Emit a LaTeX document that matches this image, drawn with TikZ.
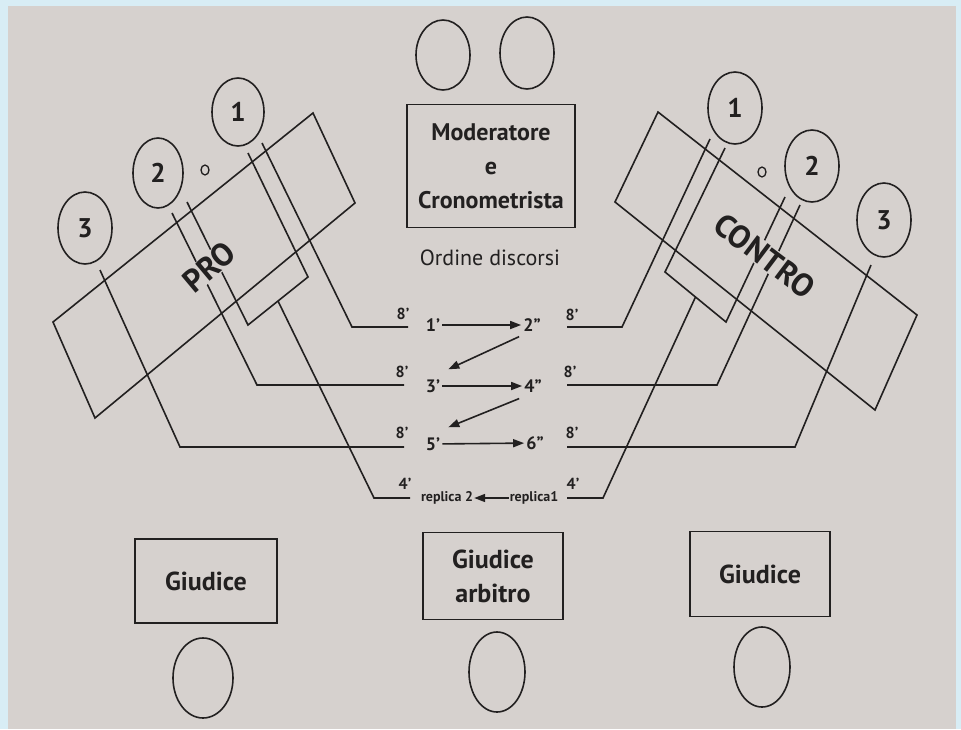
\documentclass[tikz,border=0pt]{standalone}
\usepackage{fontspec}
\setmainfont{PT Sans}
\usetikzlibrary{arrows.meta,calc,shapes.geometric}
\definecolor{frame}{RGB}{216,237,245}
\definecolor{paper}{RGB}{214,209,206}
\definecolor{ink}{RGB}{34,32,32}

\begin{document}
\begin{tikzpicture}[x=1pt,y=-1pt,
  wire/.style={draw=ink,line width=1.6pt,line join=miter},
  seat/.style={ellipse,draw=ink,line width=1.6pt,inner sep=0pt,
    font=\fontsize{27}{27}\selectfont\bfseries,text=ink},
  dot/.style={ellipse,draw=ink,line width=1.3pt,inner sep=0pt,
    minimum width=8pt,minimum height=10pt},
  panel/.style={draw=ink,line width=1.7pt,align=center,text=ink},
  side/.style={fill=paper,inner sep=0.5pt,text=ink,
    font=\fontsize{32}{32}\selectfont\bfseries},
  tmark/.style={inner sep=1pt,text=ink,font=\fontsize{16}{16}\selectfont\bfseries},
  turn/.style={inner sep=2pt,text=ink,font=\fontsize{18}{18}\selectfont\bfseries},
  rep/.style={inner sep=1pt,text=ink,font=\fontsize{14}{14}\selectfont\bfseries},
  arr/.style={draw=ink,line width=1.6pt,-{Triangle[length=11pt,width=8pt]}}]

\useasboundingbox (0,0) rectangle (961,729);
\fill[frame] (0,0) rectangle (961,729);
\fill[paper] (8,6) rectangle (956,729);

% ---------- seats ----------
\node[seat,minimum width=54pt,minimum height=70pt] (t1) at (443,55) {};
\node[seat,minimum width=54pt,minimum height=72pt] (t2) at (527,53) {};

\node[seat,minimum width=52pt,minimum height=68pt] (p1) at (238,112) {1};
\node[seat,minimum width=50pt,minimum height=70pt] (p2) at (158,173) {2};
\node[seat,minimum width=54pt,minimum height=72pt] (p3) at (85,228) {3};
\node[dot] (po) at (205,170) {};

\node[seat,minimum width=54pt,minimum height=72pt] (c1) at (735,108) {1};
\node[seat,minimum width=54pt,minimum height=72pt] (c2) at (812,166) {2};
\node[seat,minimum width=54pt,minimum height=74pt] (c3) at (884,220) {3};
\node[dot] (co) at (762,172) {};

\node[seat,minimum width=60pt,minimum height=80pt] (j1) at (203,678) {};
\node[seat,minimum width=56pt,minimum height=80pt] (j2) at (497,672) {};
\node[seat,minimum width=56pt,minimum height=80pt] (j3) at (762,667) {};

% ---------- boxes ----------
\node[panel,minimum width=168pt,minimum height=123pt,
  font=\fontsize{24}{34}\selectfont\bfseries] (mod) at (491,166)
  {Moderatore\\e\\Cronometrista};
\node[text=ink,font=\fontsize{22}{22}\selectfont] (ord) at (490,258) {Ordine discorsi};

\node[panel,minimum width=142pt,minimum height=84pt,
  font=\fontsize{26}{34}\selectfont\bfseries] (g1) at (206,581) {Giudice};
\node[panel,minimum width=140pt,minimum height=87pt,
  font=\fontsize{26}{34}\selectfont\bfseries] (g2) at (493,576) {Giudice\\arbitro};
\node[panel,minimum width=140pt,minimum height=85pt,
  font=\fontsize{26}{34}\selectfont\bfseries] (g3) at (760,574) {Giudice};

% ---------- team tables ----------
\draw[wire] (313,113) -- (355,203) -- (95,418) -- (53,322) -- cycle;
\draw[wire] (658,112) -- (917,315) -- (875,410) -- (615,202) -- cycle;

% ---------- speech order labels ----------
\node[tmark] (a8) at (403,314) {8'};
\node[tmark] (b8) at (402,372) {8'};
\node[tmark] (c8) at (402,433) {8'};
\node[tmark] (d4) at (405,484) {4'};
\node[tmark] (e8) at (572,315) {8'};
\node[tmark] (f8) at (570,372) {8'};
\node[tmark] (g8) at (572,433) {8'};
\node[tmark] (h4) at (573,484) {4'};

\node[turn] (o1) at (433,325) {1'};
\node[turn] (o2) at (532,325) {2''};
\node[turn] (o3) at (433,386) {3'};
\node[turn] (o4) at (533,386) {4''};
\node[turn] (o5) at (433,444) {5'};
\node[turn] (o6) at (535,443) {6''};
\node[rep] (r2) at (447,498) {replica 2};
\node[rep] (r1) at (534,498) {replica1};

\draw[arr] (o1) -- (o2);
\draw[arr] (o3) -- (o4);
\draw[arr] (o5) -- (o6);
\draw[arr] ($(o2.south west)+(-2,3)$) -- ($(o3.north east)+(6,-8)$);
\draw[arr] ($(o4.south west)+(-3,4)$) -- ($(o5.north east)+(6,-8)$);
\draw[arr] (r1.west) -- (r2.east);

% ---------- speaker lines, PRO side ----------
\coordinate (pa) at (262,143);
\coordinate (pb) at (248,153);
\coordinate (pc) at (187,202);
\coordinate (pd) at (172,213);
\coordinate (pe) at (100,270);
\draw[wire] (pa) -- (352,327) -- (408,327);
\draw[wire] (pb) -- (308,277) -- (248,325) -- (pc);
\draw[wire] (pd) -- (257,385) -- (404,385);
\draw[wire] (pe) -- (180,447) -- (404,447);
\draw[wire] ($(308,277)!0.5!(248,325)$) -- (374,498) -- (410,498);

% ---------- speaker lines, CONTRO side ----------
\coordinate (ca) at (710,139);
\coordinate (cb) at (725,148);
\coordinate (cc) at (785,197);
\coordinate (cd) at (800,205);
\coordinate (ce) at (871,265);
\draw[wire] (ca) -- (622,327) -- (567,327);
\draw[wire] (cb) -- (665,272) -- (726,322) -- (cc);
\draw[wire] (cd) -- (717,385) -- (567,385);
\draw[wire] (ce) -- (795,447) -- (567,447);
\draw[wire] ($(665,272)!0.5!(726,322)$) -- (603,498) -- (567,498);

% ---------- team names ----------
\node[side,rotate=40] (pro) at (209,267) {PRO};
\node[side,rotate=-37] (con) at (765,256) {CONTRO};

\end{tikzpicture}
\end{document}
